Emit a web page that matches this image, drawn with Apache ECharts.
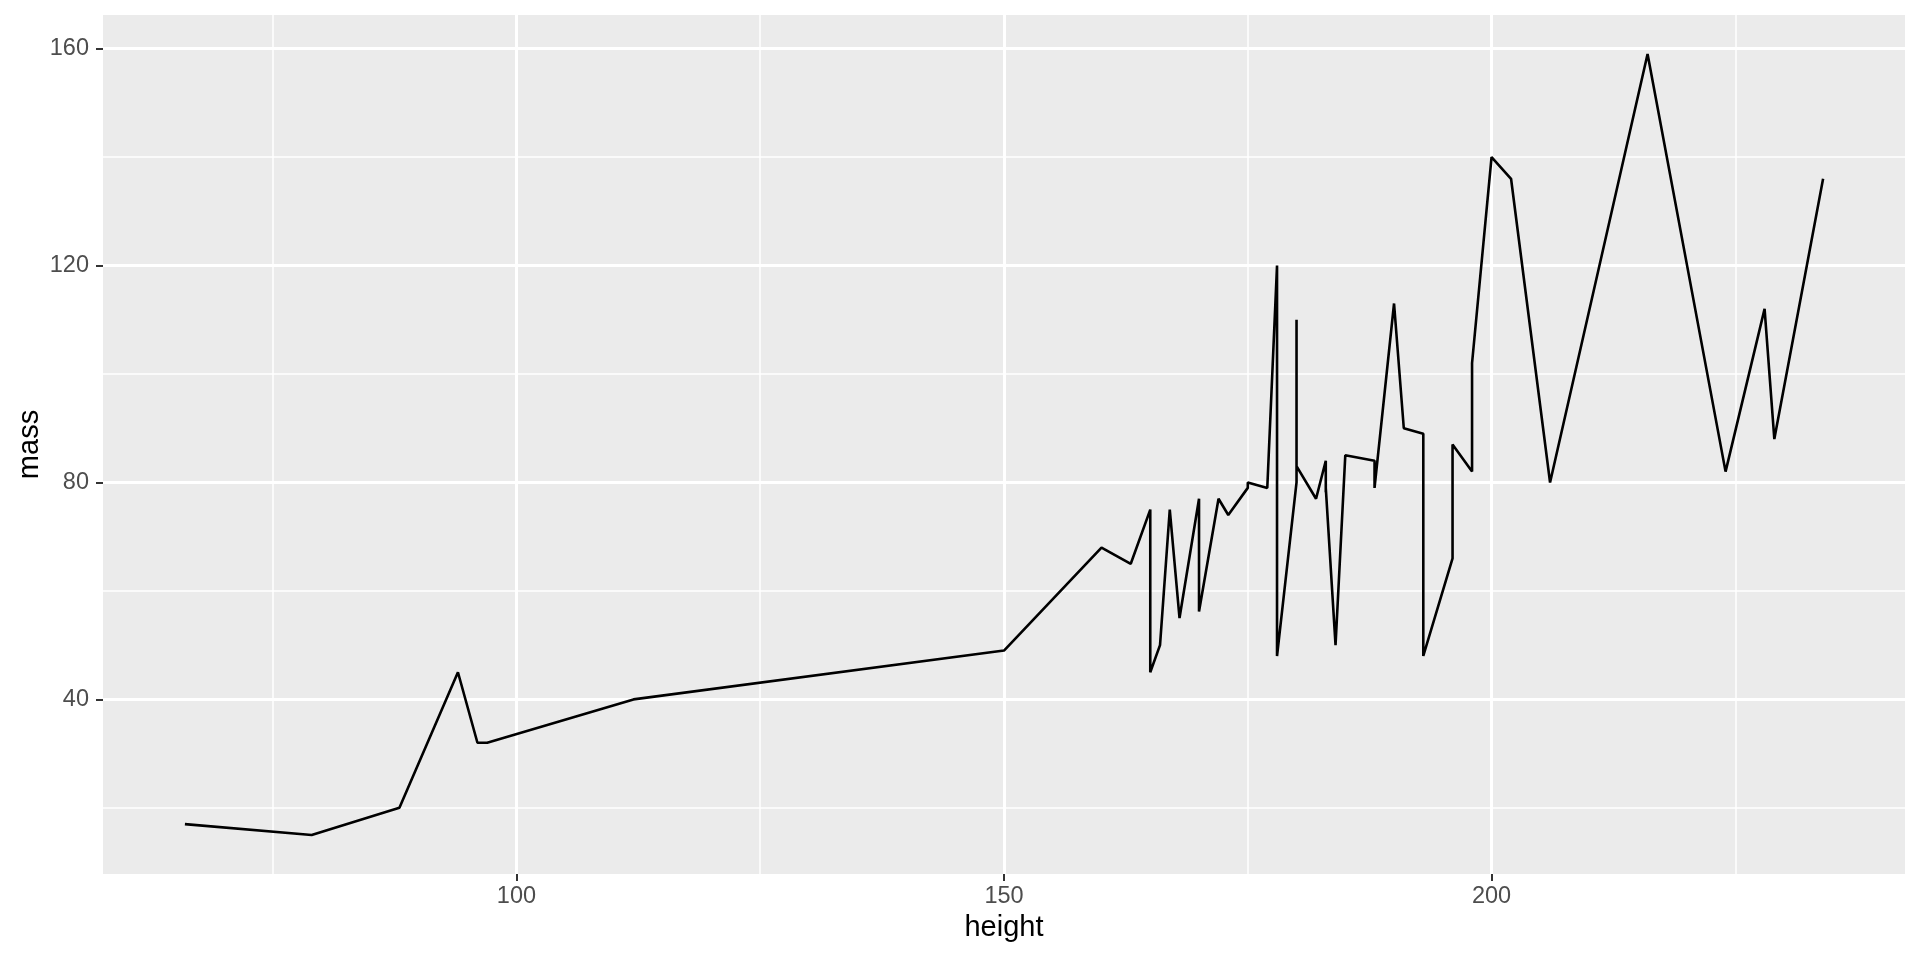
<!DOCTYPE html>
<html>
<head>
<meta charset="utf-8">
<script src="https://cdn.jsdelivr.net/npm/echarts@6/dist/echarts.min.js"></script>
<style>html,body{margin:0;padding:0;background:#fff}#c{width:1920px;height:960px}</style>
</head>
<body>
<div id="c"></div>
<script>
// starwars: height vs mass (sorted by height, ties in data order)
const heights = [66,79,88,94,96,97,112,150,160,163,165,165,166,167,168,170,170,170,172,173,175,175,177,178,178,178,178,180,180,180,182,183,183,183,183,184,185,188,188,188,188,190,191,193,193,193,196,196,198,198,200,202,206,216,224,228,229,234];
const masses  = [17,15,20,45,32,32,40,49,68,65,75,45,50,75,55,77,75,56.2,77,74,79,80,79,120,55,57,48,80,110,83,77,84,78.2,80,79,50,85,84,84,80,79,113,90,89,80,48,66,87,82,102,140,136,80,159,82,112,88,136];
const xMajor = [100,150,200];
const xMinor = [75,125,175,225];
const yMajor = [40,80,120,160];
const yMinor = [20,60,100,140];

const points = heights.map((h,i)=>[h, masses[i]]);
const xmin = 66 - 0.05*(234-66), xmax = 234 + 0.05*(234-66);
const ymin = 15 - 0.05*(159-15), ymax = 159 + 0.05*(159-15);

const gridLines = [];
xMinor.forEach(v=>gridLines.push({xAxis:v, lineStyle:{color:'#fff', width:1.5, type:'solid'}}));
yMinor.forEach(v=>gridLines.push({yAxis:v, lineStyle:{color:'#fff', width:1.5, type:'solid'}}));
xMajor.forEach(v=>gridLines.push({xAxis:v, lineStyle:{color:'#fff', width:3, type:'solid'}}));
yMajor.forEach(v=>gridLines.push({yAxis:v, lineStyle:{color:'#fff', width:3, type:'solid'}}));

const chart = echarts.init(document.getElementById('c'), null, {renderer:'canvas'});
chart.setOption({
  animation:false,
  backgroundColor:'#ffffff',
  grid:{left:103, right:15, top:15, bottom:86, show:true, backgroundColor:'#EBEBEB', borderWidth:0},
  xAxis:{
    type:'value', min:xmin, max:xmax,
    name:'height', nameLocation:'middle', nameGap:39, nameMoveOverlap:false,
    nameTextStyle:{fontFamily:'Liberation Sans', fontSize:29, color:'#000'},
    axisLine:{show:false},
    axisTick:{show:true, length:7, lineStyle:{color:'#333', width:2}, customValues:xMajor},
    axisLabel:{fontFamily:'Liberation Sans', fontSize:23.5, color:'#4D4D4D', margin:11, customValues:xMajor},
    splitLine:{show:false}
  },
  yAxis:{
    type:'value', min:ymin, max:ymax,
    name:'mass', nameLocation:'middle', nameGap:59, nameRotate:90, nameMoveOverlap:false,
    nameTextStyle:{fontFamily:'Liberation Sans', fontSize:29, color:'#000'},
    axisLine:{show:false},
    axisTick:{show:true, length:7, lineStyle:{color:'#333', width:2}, customValues:yMajor},
    axisLabel:{fontFamily:'Liberation Sans', fontSize:23.5, color:'#4D4D4D', margin:14, customValues:yMajor},
    splitLine:{show:false}
  },
  series:[{
    type:'line', data:points, showSymbol:false, symbol:'none',
    lineStyle:{color:'#000', width:2.6}, z:3,
    markLine:{silent:true, symbol:['none','none'], label:{show:false}, animation:false, z:1, data:gridLines}
  }]
});
</script>
</body>
</html>
